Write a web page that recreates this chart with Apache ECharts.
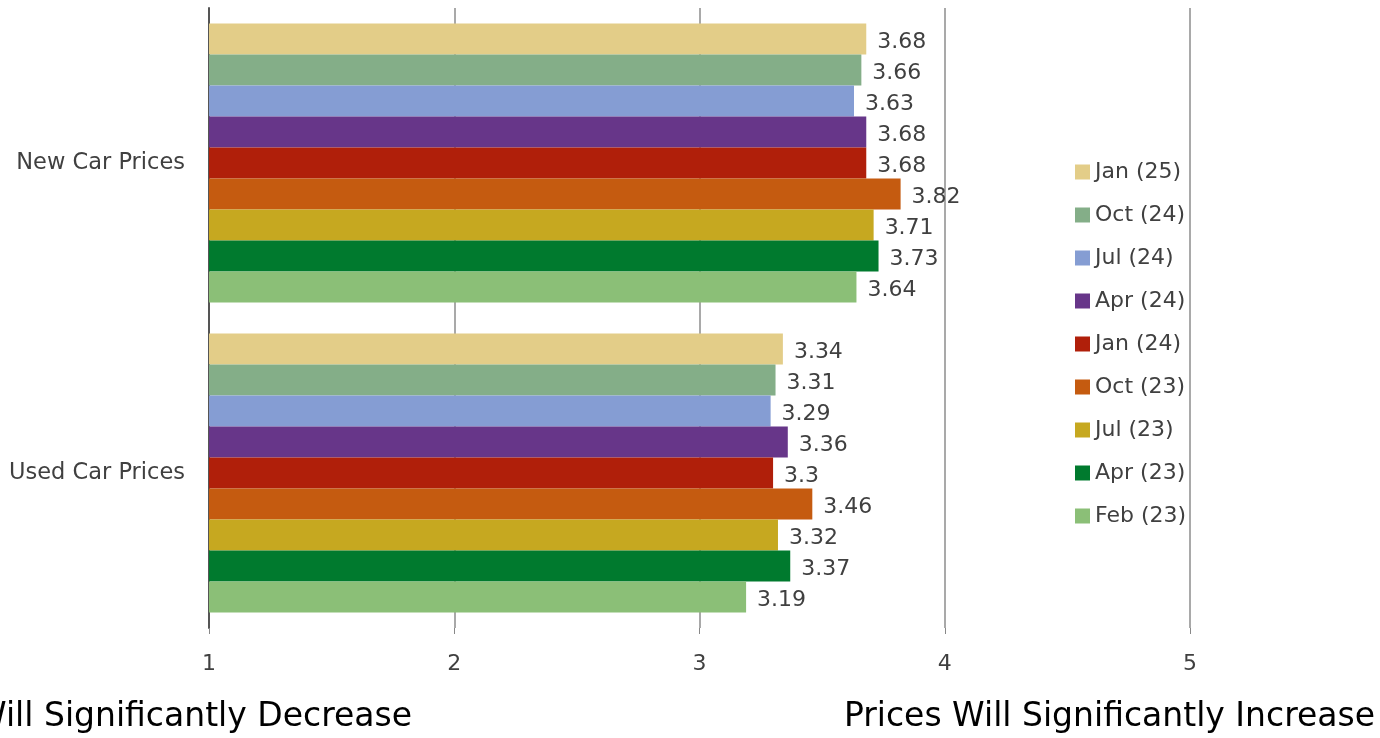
<!DOCTYPE html>
<html>
<head>
<meta charset="utf-8">
<script src="https://cdn.jsdelivr.net/npm/echarts@6/dist/echarts.min.js"></script>
<style>
html,body{margin:0;padding:0;background:#fff;}
#box{width:1380px;height:738px;}
</style>
</head>
<body>
<div id="box"></div>
<script>
// categories bottom -> top (category axis starts at the bottom)
const categories = ["Used Car Prices", "New Car Prices"];
// survey waves, top to bottom within each group
const waves = ["Jan (25)", "Oct (24)", "Jul (24)", "Apr (24)", "Jan (24)", "Oct (23)", "Jul (23)", "Apr (23)", "Feb (23)"];
const usedCar = [3.34, 3.31, 3.29, 3.36, 3.3, 3.46, 3.32, 3.37, 3.19];
const newCar = [3.68, 3.66, 3.63, 3.68, 3.68, 3.82, 3.71, 3.73, 3.64];
const colors = ["#e3cd88", "#84ae88", "#859dd3", "#673689", "#b01f0a", "#c55b10", "#c6a820", "#007a2e", "#8bbf77"];
const xTicks = [1, 2, 3, 4, 5];

const font = "DejaVu Sans";
let mycharts = echarts.init(document.getElementById("box"));

let series = waves.map(function(name, i){
    return {
        name: name,
        type: "bar",
        data: [usedCar[i], newCar[i]],
        barGap: "0%",
        barCategoryGap: "10%",
        itemStyle: {color: colors[i]},
        label: {
            show: true,
            position: "right",
            distance: 11,
            offset: [0, 3],
            color: "#404040",
            fontSize: 22,
            fontFamily: font
        }
    };
});

mycharts.setOption({
    backgroundColor: "#fff",
    animation: false,
    color: colors,
    grid: {left: 209, right: 190, top: 8, bottom: 110},
    legend: {
        orient: "vertical",
        left: 1070,
        top: 156,
        itemWidth: 15,
        itemHeight: 15,
        itemGap: 21,
        icon: "rect",
        data: waves,
        textStyle: {color: "#404040", fontSize: 22, fontFamily: font}
    },
    xAxis: {
        type: "value",
        min: 1,
        max: 5,
        interval: 1,
        axisLine: {show: false},
        axisTick: {show: true, length: 6, lineStyle: {color: "#888"}},
        axisLabel: {
            color: "#404040",
            fontSize: 22,
            fontFamily: font,
            margin: 25,
            formatter: function(v){ return xTicks.indexOf(v) >= 0 ? String(v) : ""; }
        },
        splitLine: {show: true, lineStyle: {color: "#8c8c8c", width: 1.5}}
    },
    yAxis: {
        type: "category",
        data: categories,
        axisLine: {show: true, lineStyle: {color: "#555", width: 2}},
        axisTick: {show: false},
        axisLabel: {color: "#404040", fontSize: 22.5, fontFamily: font, margin: 24}
    },
    graphic: [
        {
            type: "text",
            x: 1375,
            y: 717,
            style: {text: "Prices Will Significantly Increase", font: "33px " + font, fill: "#000", align: "right", verticalAlign: "middle"}
        },
        {
            type: "text",
            x: 412,
            y: 717,
            style: {text: "Prices Will Significantly Decrease", font: "33px " + font, fill: "#000", align: "right", verticalAlign: "middle"}
        }
    ],
    series: series
});
</script>
</body>
</html>
